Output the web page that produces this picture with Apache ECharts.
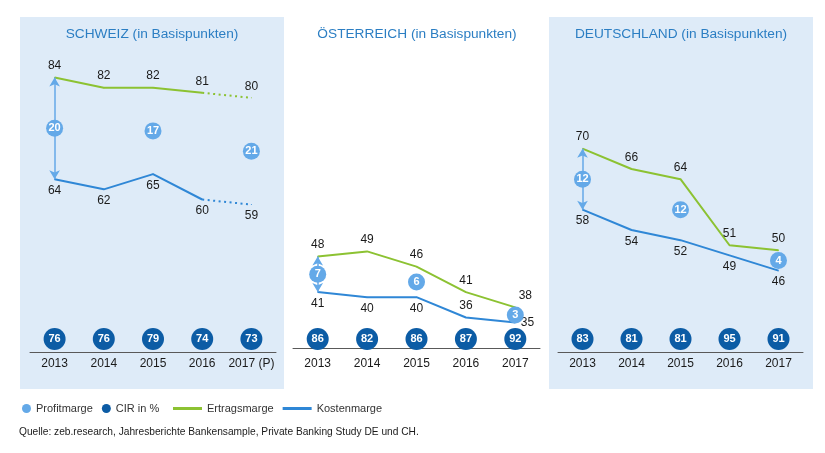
<!DOCTYPE html>
<html>
<head>
<meta charset="utf-8">
<script src="https://cdn.jsdelivr.net/npm/echarts@6/dist/echarts.min.js"></script>
<style>html,body{margin:0;padding:0;background:#fff}#c{width:825px;height:453px}</style>
</head>
<body>
<div id="c"></div>
<script>
// ---- data ----
const years = ['2013', '2014', '2015', '2016', '2017'];
const yearLabelsCH = ['2013', '2014', '2015', '2016', '2017 (P)'];
const titles = ['SCHWEIZ (in Basispunkten)', 'ÖSTERREICH (in Basispunkten)', 'DEUTSCHLAND (in Basispunkten)'];

const ertragCH = [84, 82, 82, 81, 80];
const kostenCH = [64, 62, 65, 60, 59];
const profitCH = [20, null, 17, null, 21];
const cirCH = [76, 76, 79, 74, 73];

const ertragAT = [48, 49, 46, 41, 38];
const kostenAT = [41, 40, 40, 36, 35];
const profitAT = [7, null, 6, null, 3];
const cirAT = [86, 82, 86, 87, 92];

const ertragDE = [70, 66, 64, 51, 50];
const kostenDE = [58, 54, 52, 49, 46];
const profitDE = [12, null, 12, null, 4];
const cirDE = [83, 81, 81, 95, 91];

// index from which values are a forecast (dotted), per panel
const forecastStart = [3, null, null];

// ---- layout / style ----
const FONT = 'Liberation Sans, Arial, sans-serif';
const GREEN = '#8cc232';
const BLUE = '#2f87d6';
const LIGHT = '#64a9e8';
const DARK = '#0c5ca5';
const TXT = '#1a1a1a';
const BG = '#deebf8';

const countries = [
  { labels: yearLabelsCH, e: ertragCH, k: kostenCH, p: profitCH, c: cirCH },
  { labels: years, e: ertragAT, k: kostenAT, p: profitAT, c: cirAT },
  { labels: years, e: ertragDE, k: kostenDE, p: profitDE, c: cirDE }
];
const panels = [
  { left: 30, width: 246, bottom: 352, cx: 152 },
  { left: 293, width: 247, bottom: 348, cx: 417 },
  { left: 558, width: 245, bottom: 352, cx: 681 }
];
// per-point label overrides (style only)
const labelOverrides = {
  '1-e-4': { position: 'top', offset: [10, 0] },
  '1-k-3': { position: 'top' },
  '1-k-4': { position: 'right', distance: 5 }
};

const grid = [], xAxis = [], yAxis = [], series = [], title = [];

panels.forEach((pn, i) => {
  const C = countries[i];
  grid.push({ left: pn.left, top: pn.bottom - 305, width: pn.width, height: 305 });
  title.push({
    text: titles[i], left: pn.cx, top: 27, textAlign: 'center', padding: 0,
    textStyle: { color: '#2b7ec3', fontSize: 13.7, fontWeight: 'normal', fontFamily: FONT }
  });
  xAxis.push({
    gridIndex: i, type: 'category', data: C.labels, boundaryGap: true,
    axisLine: { lineStyle: { color: '#595959', width: 1 } },
    axisTick: { show: false },
    axisLabel: { interval: 0, hideOverlap: false, color: TXT, fontSize: 12, fontFamily: FONT, margin: 364 - 6 - pn.bottom }
  });
  yAxis.push({ gridIndex: i, type: 'value', min: 30, max: 90, show: false, splitLine: { show: false } });
});
panels.forEach((pn, i) => {
  grid.push({ left: pn.left, top: 327, width: pn.width, height: 24 });
  xAxis.push({ gridIndex: 3 + i, type: 'category', data: countries[i].labels, boundaryGap: true, show: false });
  yAxis.push({ gridIndex: 3 + i, type: 'category', data: ['CIR'], show: false });
});

function lineSeries(i, kind) {
  const C = countries[i];
  const vals = kind === 'e' ? C.e : C.k;
  const name = kind === 'e' ? 'Ertragsmarge' : 'Kostenmarge';
  const color = kind === 'e' ? GREEN : BLUE;
  const fc = forecastStart[i];
  const baseLabel = {
    show: true, position: kind === 'e' ? 'top' : 'bottom', distance: 5,
    color: TXT, fontSize: 12, fontFamily: FONT
  };
  const item = (v, j, show) => {
    if (v == null) return null;
    const ov = labelOverrides[i + '-' + kind + '-' + j];
    const o = { value: v };
    if (!show) o.label = { show: false };
    else if (ov) o.label = ov;
    return o;
  };
  const common = {
    name, type: 'line', xAxisIndex: i, yAxisIndex: i, color,
    symbol: 'circle', symbolSize: 1, itemStyle: { color },
    label: baseLabel, silent: true, z: 3
  };
  const out = [];
  const solid = vals.map((v, j) => (fc == null || j <= fc) ? item(v, j, true) : null);
  out.push(Object.assign({}, common, { data: solid, lineStyle: { color, width: 2 } }));
  if (fc != null) {
    const dotted = vals.map((v, j) => j >= fc ? item(v, j, j > fc) : null);
    out.push(Object.assign({}, common, { data: dotted, lineStyle: { color, width: 2, type: [2, 3.5] } }));
  }
  if (kind === 'k') {
    out[0].markLine = {
      silent: true, symbol: ['arrow', 'arrow'], symbolSize: [8, 9],
      label: { show: false },
      lineStyle: { color: LIGHT, width: 1.5, type: 'solid' },
      data: [[{ coord: [C.labels[0], C.e[0]] }, { coord: [C.labels[0], C.k[0]] }]]
    };
  }
  return out;
}

countries.forEach((C, i) => {
  series.push(...lineSeries(i, 'e'));
  series.push(...lineSeries(i, 'k'));
  const pdata = [];
  C.p.forEach((p, j) => { if (p != null) pdata.push([C.labels[j], (C.e[j] + C.k[j]) / 2, p]); });
  series.push({
    name: 'Profitmarge', type: 'scatter', xAxisIndex: i, yAxisIndex: i, z: 6,
    symbolSize: 17, itemStyle: { color: LIGHT, opacity: 1 }, silent: true,
    label: { show: true, position: 'inside', color: '#fff', fontWeight: 'bold', fontSize: 11, fontFamily: FONT,
      formatter: p => p.value[2] },
    data: pdata
  });
  series.push({
    name: 'CIR in %', type: 'scatter', xAxisIndex: 3 + i, yAxisIndex: 3 + i, z: 6,
    symbolSize: 22, itemStyle: { color: DARK, opacity: 1 }, silent: true,
    label: { show: true, position: 'inside', color: '#fff', fontWeight: 'bold', fontSize: 11, fontFamily: FONT,
      formatter: p => p.value[2] },
    data: C.c.map((v, j) => [C.labels[j], 'CIR', v])
  });
});

const option = {
  animation: false,
  backgroundColor: '#fff',
  title,
  grid, xAxis, yAxis, series,
  legend: [
    {
      left: 22, top: 403, padding: 0, itemWidth: 9, itemHeight: 9, itemGap: 9, selectedMode: false,
      textStyle: { color: '#333', fontSize: 11, fontFamily: FONT },
      data: [
        { name: 'Profitmarge', icon: 'circle', itemStyle: { color: LIGHT } },
        { name: 'CIR in %', icon: 'circle', itemStyle: { color: DARK } }
      ]
    },
    {
      left: 173, top: 403, padding: 0, itemWidth: 29, itemHeight: 3, itemGap: 9, selectedMode: false,
      textStyle: { color: '#333', fontSize: 11, fontFamily: FONT },
      data: [
        { name: 'Ertragsmarge', icon: 'rect', itemStyle: { color: GREEN } },
        { name: 'Kostenmarge', icon: 'rect', itemStyle: { color: BLUE } }
      ]
    }
  ],
  graphic: [
    { type: 'rect', z: -10, shape: { x: 20, y: 17, width: 264, height: 372 }, style: { fill: BG } },
    { type: 'rect', z: -10, shape: { x: 549, y: 17, width: 264, height: 372 }, style: { fill: BG } },
    { type: 'text', z: 10, x: 19, y: 427,
      style: { text: 'Quelle: zeb.research, Jahresberichte Bankensample, Private Banking Study DE und CH.',
        fontSize: 10.2, fill: TXT, fontFamily: FONT } }
  ]
};
const chart = echarts.init(document.getElementById('c'), null, { renderer: 'canvas' });
chart.setOption(option);
</script>
</body>
</html>
